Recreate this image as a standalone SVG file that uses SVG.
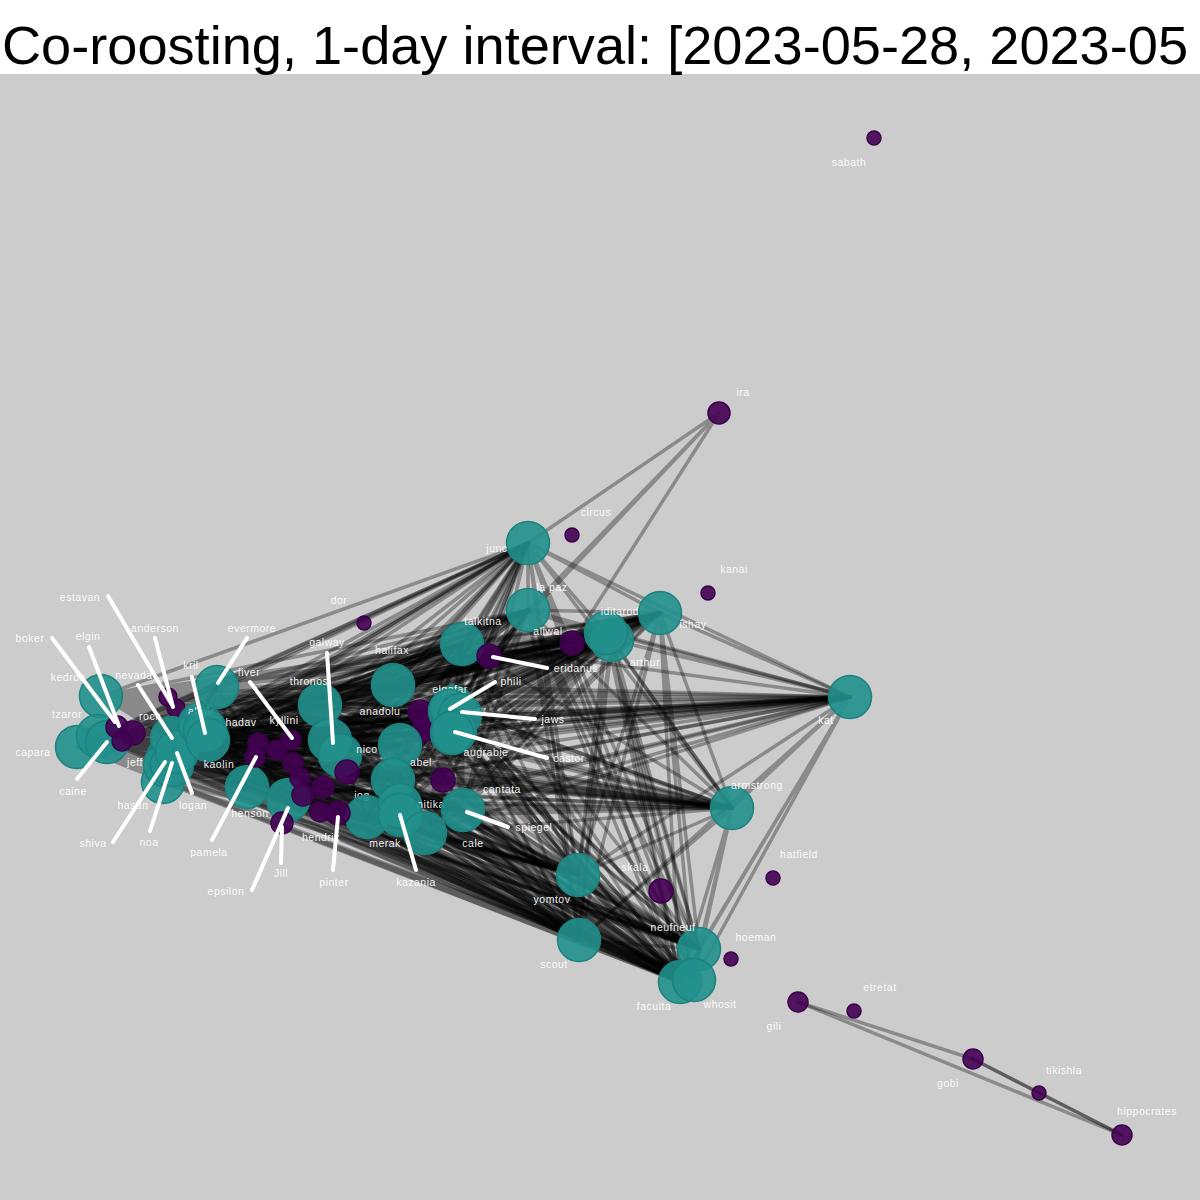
<svg xmlns="http://www.w3.org/2000/svg" width="1200" height="1200" viewBox="0 0 1200 1200">
<style>
.e{fill:none;stroke:#000;stroke-opacity:0.32;stroke-width:3.5;stroke-linejoin:round;stroke-linecap:round}
.t{fill:#21908c;fill-opacity:0.9;stroke:#1c827e;stroke-width:1.5}
.p{fill:#440154;fill-opacity:0.9;stroke:#3a0149;stroke-width:1.5}
.ptr line{stroke:#fff;stroke-width:4;stroke-linecap:round}
text.l{font-family:"Liberation Sans",Arial,sans-serif;font-size:10.5px;fill:#fff;fill-opacity:0.95;text-anchor:middle;letter-spacing:0.5px}
</style>
<rect x="0" y="0" width="1200" height="1200" fill="#cccccc"/>
<rect x="0" y="0" width="1200" height="74" fill="#ffffff"/>
<text x="2" y="64" font-family="'Liberation Sans',Arial,sans-serif" font-size="54" fill="#000" textLength="1186" lengthAdjust="spacingAndGlyphs">Co-roosting, 1-day interval: [2023-05-28, 2023-05</text>
<g id="edges">
<path class="e" d="M101 696L217 687 101 696 247 787 101 696 288 800 101 696 320 705 101 696 330 740 101 696 340 755 101 696 393 685 101 696 400 745 101 696 393 780 101 696 400 805 101 696 367 817 101 696 425 833 101 696 463 810 101 696 453 707 101 696 452 733 101 696 460 715 101 696 462 644 101 696 528 610 101 696 528 543 101 696 606 633 101 696 612 640 101 696 660 613 101 696 850 697 101 696 732 808 101 696 578 875 101 696 579 940 101 696 699 949 101 696 680 982 101 696 694 980"/>
<path class="e" d="M98 736L217 687 98 736 247 787 98 736 288 800 98 736 320 705 98 736 330 740 98 736 340 755 98 736 393 685 98 736 400 745 98 736 393 780 98 736 400 805 98 736 367 817 98 736 425 833 98 736 463 810 98 736 453 707 98 736 452 733 98 736 460 715 98 736 462 644 98 736 528 610 98 736 528 543 98 736 606 633 98 736 612 640 98 736 660 613 98 736 850 697 98 736 732 808 98 736 578 875 98 736 579 940 98 736 699 949 98 736 680 982 98 736 694 980"/>
<path class="e" d="M77 747L217 687 77 747 247 787 77 747 288 800 77 747 320 705 77 747 330 740 77 747 340 755 77 747 393 685 77 747 400 745 77 747 393 780 77 747 400 805 77 747 367 817 77 747 425 833 77 747 463 810 77 747 453 707 77 747 452 733 77 747 460 715 77 747 462 644 77 747 528 610 77 747 528 543 77 747 606 633 77 747 612 640 77 747 660 613 77 747 850 697 77 747 732 808 77 747 578 875 77 747 579 940 77 747 699 949 77 747 680 982 77 747 694 980"/>
<path class="e" d="M107 742L217 687 107 742 247 787 107 742 288 800 107 742 320 705 107 742 330 740 107 742 340 755 107 742 393 685 107 742 400 745 107 742 393 780 107 742 400 805 107 742 367 817 107 742 425 833 107 742 463 810 107 742 453 707 107 742 452 733 107 742 460 715 107 742 462 644 107 742 528 610 107 742 528 543 107 742 606 633 107 742 612 640 107 742 660 613 107 742 850 697 107 742 732 808 107 742 578 875 107 742 579 940 107 742 699 949 107 742 680 982 107 742 694 980"/>
<path class="e" d="M172 738L217 687 172 738 247 787 172 738 288 800 172 738 320 705 172 738 330 740 172 738 340 755 172 738 393 685 172 738 400 745 172 738 393 780 172 738 400 805 172 738 367 817 172 738 425 833 172 738 463 810 172 738 453 707 172 738 452 733 172 738 460 715 172 738 462 644 172 738 528 610 172 738 528 543 172 738 606 633 172 738 612 640 172 738 660 613 172 738 850 697 172 738 732 808 172 738 578 875 172 738 579 940 172 738 699 949 172 738 680 982 172 738 694 980"/>
<path class="e" d="M168 758L217 687 168 758 247 787 168 758 288 800 168 758 320 705 168 758 330 740 168 758 340 755 168 758 393 685 168 758 400 745 168 758 393 780 168 758 400 805 168 758 367 817 168 758 425 833 168 758 463 810 168 758 453 707 168 758 452 733 168 758 460 715 168 758 462 644 168 758 528 610 168 758 528 543 168 758 606 633 168 758 612 640 168 758 660 613 168 758 850 697 168 758 732 808 168 758 578 875 168 758 579 940 168 758 699 949 168 758 680 982 168 758 694 980"/>
<path class="e" d="M163 782L217 687 163 782 247 787 163 782 288 800 163 782 320 705 163 782 330 740 163 782 340 755 163 782 393 685 163 782 400 745 163 782 393 780 163 782 400 805 163 782 367 817 163 782 425 833 163 782 463 810 163 782 453 707 163 782 452 733 163 782 460 715 163 782 462 644 163 782 528 610 163 782 528 543 163 782 606 633 163 782 612 640 163 782 660 613 163 782 850 697 163 782 732 808 163 782 578 875 163 782 579 940 163 782 699 949 163 782 680 982 163 782 694 980"/>
<path class="e" d="M177 752L217 687 177 752 247 787 177 752 288 800 177 752 320 705 177 752 330 740 177 752 340 755 177 752 393 685 177 752 400 745 177 752 393 780 177 752 400 805 177 752 367 817 177 752 425 833 177 752 463 810 177 752 453 707 177 752 452 733 177 752 460 715 177 752 462 644 177 752 528 610 177 752 528 543 177 752 606 633 177 752 612 640 177 752 660 613 177 752 850 697 177 752 732 808 177 752 578 875 177 752 579 940 177 752 699 949 177 752 680 982 177 752 694 980"/>
<path class="e" d="M205 730L217 687 205 730 247 787 205 730 288 800 205 730 320 705 205 730 330 740 205 730 340 755 205 730 393 685 205 730 400 745 205 730 393 780 205 730 400 805 205 730 367 817 205 730 425 833 205 730 463 810 205 730 453 707 205 730 452 733 205 730 460 715 205 730 462 644 205 730 528 610 205 730 528 543 205 730 606 633 205 730 612 640 205 730 660 613 205 730 850 697 205 730 732 808 205 730 578 875 205 730 579 940 205 730 699 949 205 730 680 982 205 730 694 980"/>
<path class="e" d="M208 740L217 687 208 740 247 787 208 740 288 800 208 740 320 705 208 740 330 740 208 740 340 755 208 740 393 685 208 740 400 745 208 740 393 780 208 740 400 805 208 740 367 817 208 740 425 833 208 740 463 810 208 740 453 707 208 740 452 733 208 740 460 715 208 740 462 644 208 740 528 610 208 740 528 543 208 740 606 633 208 740 612 640 208 740 660 613 208 740 850 697 208 740 732 808 208 740 578 875 208 740 579 940 208 740 699 949 208 740 680 982 208 740 694 980"/>
<path class="e" d="M217 687L247 787 217 687 288 800 217 687 320 705 217 687 330 740 217 687 340 755 217 687 393 685 217 687 400 745 217 687 393 780 217 687 400 805 217 687 367 817 217 687 425 833 217 687 463 810 217 687 453 707 217 687 452 733 217 687 460 715 217 687 462 644 217 687 528 610 217 687 528 543 217 687 606 633 217 687 612 640 217 687 660 613 217 687 850 697 217 687 732 808 217 687 578 875 217 687 579 940 217 687 699 949 217 687 680 982 217 687 694 980"/>
<path class="e" d="M247 787L288 800 247 787 320 705 247 787 330 740 247 787 340 755 247 787 393 685 247 787 400 745 247 787 393 780 247 787 400 805 247 787 367 817 247 787 425 833 247 787 463 810 247 787 453 707 247 787 452 733 247 787 460 715 247 787 462 644 247 787 528 610 247 787 528 543 247 787 606 633 247 787 612 640 247 787 660 613 247 787 850 697 247 787 732 808 247 787 578 875 247 787 579 940 247 787 699 949 247 787 680 982 247 787 694 980"/>
<path class="e" d="M288 800L320 705 288 800 330 740 288 800 340 755 288 800 393 685 288 800 400 745 288 800 393 780 288 800 400 805 288 800 367 817 288 800 425 833 288 800 463 810 288 800 453 707 288 800 452 733 288 800 460 715 288 800 462 644 288 800 528 610 288 800 528 543 288 800 606 633 288 800 612 640 288 800 660 613 288 800 850 697 288 800 732 808 288 800 578 875 288 800 579 940 288 800 699 949 288 800 680 982 288 800 694 980"/>
<path class="e" d="M320 705L330 740 320 705 340 755 320 705 393 685 320 705 400 745 320 705 393 780 320 705 400 805 320 705 367 817 320 705 425 833 320 705 463 810 320 705 453 707 320 705 452 733 320 705 460 715 320 705 462 644 320 705 528 610 320 705 528 543 320 705 606 633 320 705 612 640 320 705 660 613 320 705 850 697 320 705 732 808 320 705 578 875 320 705 579 940 320 705 699 949 320 705 680 982 320 705 694 980"/>
<path class="e" d="M330 740L340 755 330 740 393 685 330 740 400 745 330 740 393 780 330 740 400 805 330 740 367 817 330 740 425 833 330 740 463 810 330 740 453 707 330 740 452 733 330 740 460 715 330 740 462 644 330 740 528 610 330 740 528 543 330 740 606 633 330 740 612 640 330 740 660 613 330 740 850 697 330 740 732 808 330 740 578 875 330 740 579 940 330 740 699 949 330 740 680 982 330 740 694 980"/>
<path class="e" d="M340 755L393 685 340 755 400 745 340 755 393 780 340 755 400 805 340 755 367 817 340 755 425 833 340 755 463 810 340 755 453 707 340 755 452 733 340 755 460 715 340 755 462 644 340 755 528 610 340 755 528 543 340 755 606 633 340 755 612 640 340 755 660 613 340 755 850 697 340 755 732 808 340 755 578 875 340 755 579 940 340 755 699 949 340 755 680 982 340 755 694 980"/>
<path class="e" d="M393 685L400 745 393 685 393 780 393 685 400 805 393 685 367 817 393 685 425 833 393 685 463 810 393 685 453 707 393 685 452 733 393 685 460 715 393 685 462 644 393 685 528 610 393 685 528 543 393 685 606 633 393 685 612 640 393 685 660 613 393 685 850 697 393 685 732 808 393 685 578 875 393 685 579 940 393 685 699 949 393 685 680 982 393 685 694 980"/>
<path class="e" d="M400 745L393 780 400 745 400 805 400 745 367 817 400 745 425 833 400 745 463 810 400 745 453 707 400 745 452 733 400 745 460 715 400 745 462 644 400 745 528 610 400 745 528 543 400 745 606 633 400 745 612 640 400 745 660 613 400 745 850 697 400 745 732 808 400 745 578 875 400 745 579 940 400 745 699 949 400 745 680 982 400 745 694 980"/>
<path class="e" d="M393 780L400 805 393 780 367 817 393 780 425 833 393 780 463 810 393 780 453 707 393 780 452 733 393 780 460 715 393 780 462 644 393 780 528 610 393 780 528 543 393 780 606 633 393 780 612 640 393 780 660 613 393 780 850 697 393 780 732 808 393 780 578 875 393 780 579 940 393 780 699 949 393 780 680 982 393 780 694 980"/>
<path class="e" d="M400 805L367 817 400 805 425 833 400 805 463 810 400 805 453 707 400 805 452 733 400 805 460 715 400 805 462 644 400 805 528 610 400 805 528 543 400 805 606 633 400 805 612 640 400 805 660 613 400 805 850 697 400 805 732 808 400 805 578 875 400 805 579 940 400 805 699 949 400 805 680 982 400 805 694 980"/>
<path class="e" d="M367 817L425 833 367 817 463 810 367 817 453 707 367 817 452 733 367 817 460 715 367 817 462 644 367 817 528 610 367 817 528 543 367 817 606 633 367 817 612 640 367 817 660 613 367 817 850 697 367 817 732 808 367 817 578 875 367 817 579 940 367 817 699 949 367 817 680 982 367 817 694 980"/>
<path class="e" d="M425 833L463 810 425 833 453 707 425 833 452 733 425 833 460 715 425 833 462 644 425 833 528 610 425 833 528 543 425 833 606 633 425 833 612 640 425 833 660 613 425 833 850 697 425 833 732 808 425 833 578 875 425 833 579 940 425 833 699 949 425 833 680 982 425 833 694 980"/>
<path class="e" d="M463 810L453 707 463 810 452 733 463 810 460 715 463 810 462 644 463 810 528 610 463 810 528 543 463 810 606 633 463 810 612 640 463 810 660 613 463 810 850 697 463 810 732 808 463 810 578 875 463 810 579 940 463 810 699 949 463 810 680 982 463 810 694 980"/>
<path class="e" d="M453 707L452 733 453 707 460 715 453 707 462 644 453 707 528 610 453 707 528 543 453 707 606 633 453 707 612 640 453 707 660 613 453 707 850 697 453 707 732 808 453 707 578 875 453 707 579 940 453 707 699 949 453 707 680 982 453 707 694 980"/>
<path class="e" d="M452 733L460 715 452 733 462 644 452 733 528 610 452 733 528 543 452 733 606 633 452 733 612 640 452 733 660 613 452 733 850 697 452 733 732 808 452 733 578 875 452 733 579 940 452 733 699 949 452 733 680 982 452 733 694 980"/>
<path class="e" d="M460 715L462 644 460 715 528 610 460 715 528 543 460 715 606 633 460 715 612 640 460 715 660 613 460 715 850 697 460 715 732 808 460 715 578 875 460 715 579 940 460 715 699 949 460 715 680 982 460 715 694 980"/>
<path class="e" d="M462 644L528 610 462 644 528 543 462 644 606 633 462 644 612 640 462 644 660 613 462 644 850 697 462 644 732 808 462 644 578 875 462 644 579 940 462 644 699 949 462 644 680 982 462 644 694 980"/>
<path class="e" d="M528 610L528 543 528 610 606 633 528 610 612 640 528 610 660 613 528 610 850 697 528 610 732 808 528 610 578 875 528 610 579 940 528 610 699 949 528 610 680 982 528 610 694 980"/>
<path class="e" d="M528 543L606 633 528 543 612 640 528 543 660 613 528 543 850 697 528 543 732 808 528 543 578 875 528 543 579 940 528 543 699 949 528 543 680 982 528 543 694 980"/>
<path class="e" d="M606 633L612 640 606 633 660 613 606 633 850 697 606 633 732 808 606 633 578 875 606 633 579 940 606 633 699 949 606 633 680 982 606 633 694 980"/>
<path class="e" d="M612 640L660 613 612 640 850 697 612 640 732 808 612 640 578 875 612 640 579 940 612 640 699 949 612 640 680 982 612 640 694 980"/>
<path class="e" d="M660 613L850 697 660 613 732 808 660 613 578 875 660 613 579 940 660 613 699 949 660 613 680 982 660 613 694 980"/>
<path class="e" d="M850 697L732 808 850 697 578 875 850 697 579 940 850 697 699 949 850 697 680 982 850 697 694 980"/>
<path class="e" d="M732 808L578 875 732 808 579 940 732 808 699 949 732 808 680 982 732 808 694 980"/>
<path class="e" d="M578 875L579 940 578 875 699 949 578 875 680 982 578 875 694 980"/>
<path class="e" d="M579 940L699 949 579 940 680 982 579 940 694 980"/>
<path class="e" d="M699 949L680 982 699 949 694 980"/>
<path class="e" d="M719 413L528 543 719 413 528 610 719 413 489 656 719 413 572 643"/>
<path class="e" d="M798 1002L973 1059"/>
<path class="e" d="M798 1002L1122 1135"/>
<path class="e" d="M973 1059L1039 1093"/>
<path class="e" d="M1039 1093L1122 1135"/>
<path class="e" d="M973 1059L1122 1135"/>
</g>
<g id="nodes">
<g id="n-kedros"><circle class="t" cx="101" cy="696" r="21.5"/><text class="l" x="68" y="680.5">kedros</text></g>
<g id="n-capara"><circle class="t" cx="77" cy="747" r="21.5"/><text class="l" x="33" y="755.5">capara</text></g>
<g id="n-tzaror"><circle class="t" cx="98" cy="736" r="21.5"/><text class="l" x="67" y="717.5">tzaror</text></g>
<g id="n-caine"><circle class="t" cx="107" cy="742" r="21.5"/><text class="l" x="73" y="794.5">caine</text></g>
<g id="n-boker"><circle class="p" cx="117" cy="727" r="11"/><text class="l" x="30" y="641.5">boker</text></g>
<g id="n-elgin"><circle class="p" cx="133" cy="733" r="12"/><text class="l" x="88" y="639.5">elgin</text></g>
<g id="n-rock"><circle class="p" cx="122" cy="741" r="10"/><text class="l" x="150" y="719.5">rock</text></g>
<g id="n-estavan"><circle class="p" cx="168" cy="697" r="9"/><text class="l" x="80" y="600.5">estavan</text></g>
<g id="n-anderson"><circle class="p" cx="176" cy="708" r="9"/><text class="l" x="155" y="631.5">anderson</text></g>
<g id="n-hasan"><circle class="t" cx="163" cy="782" r="21.5"/><text class="l" x="133" y="808.5">hasan</text></g>
<g id="n-jeff"><circle class="t" cx="168" cy="758" r="21.5"/><text class="l" x="135" y="765.5">jeff</text></g>
<g id="n-shiva"><circle class="t" cx="165" cy="765" r="21.5"/><text class="l" x="93" y="846.5">shiva</text></g>
<g id="n-noa"><circle class="t" cx="172" cy="765" r="21.5"/><text class="l" x="149" y="845.5">noa</text></g>
<g id="n-nevada"><circle class="t" cx="172" cy="738" r="21.5"/><text class="l" x="134" y="678.5">nevada</text></g>
<g id="n-logan"><circle class="t" cx="177" cy="752" r="21.5"/><text class="l" x="193" y="808.5">logan</text></g>
<g id="n-altair"><circle class="t" cx="200" cy="724" r="21.5"/><text class="l" x="201" y="714.5">altair</text></g>
<g id="n-kril"><circle class="t" cx="205" cy="730" r="21.5"/><text class="l" x="191" y="668.5">kril</text></g>
<g id="n-kaolin"><circle class="t" cx="208" cy="740" r="21.5"/><text class="l" x="219" y="767.5">kaolin</text></g>
<g id="n-evermore"><circle class="t" cx="217" cy="687" r="21.5"/><text class="l" x="252" y="631.5">evermore</text></g>
<g id="n-henson"><circle class="t" cx="247" cy="787" r="21.5"/><text class="l" x="250" y="816.5">henson</text></g>
<g id="n-epsilon"><circle class="t" cx="288" cy="800" r="21.5"/><text class="l" x="226" y="894.5">epsilon</text></g>
<g id="n-thronos"><circle class="t" cx="320" cy="705" r="21.5"/><text class="l" x="309" y="684.5">thronos</text></g>
<g id="n-galway"><circle class="t" cx="330" cy="740" r="21.5"/><text class="l" x="327" y="645.5">galway</text></g>
<g id="n-nico"><circle class="t" cx="340" cy="755" r="21.5"/><text class="l" x="367" y="752.5">nico</text></g>
<g id="n-halifax"><circle class="t" cx="393" cy="685" r="21.5"/><text class="l" x="392" y="653.5">halifax</text></g>
<g id="n-anadolu"><circle class="p" cx="420" cy="712" r="12"/><text class="l" x="380" y="714.5">anadolu</text></g>
<g id="n-p1"><circle class="p" cx="424" cy="730" r="12"/></g>
<g id="n-abel"><circle class="t" cx="400" cy="745" r="21.5"/><text class="l" x="421" y="765.5">abel</text></g>
<g id="n-jog"><circle class="t" cx="393" cy="780" r="21.5"/><text class="l" x="362" y="798.5">jog</text></g>
<g id="n-merak"><circle class="t" cx="367" cy="817" r="21.5"/><text class="l" x="385" y="846.5">merak</text></g>
<g id="n-nitika"><circle class="t" cx="400" cy="805" r="21.5"/><text class="l" x="431" y="807.5">nitika</text></g>
<g id="n-kazania"><circle class="t" cx="400" cy="815" r="21.5"/><text class="l" x="416" y="885.5">kazania</text></g>
<g id="n-cale"><circle class="t" cx="425" cy="833" r="21.5"/><text class="l" x="473" y="846.5">cale</text></g>
<g id="n-cantata"><circle class="p" cx="443" cy="780" r="12"/><text class="l" x="502" y="792.5">cantata</text></g>
<g id="n-spiegel"><circle class="t" cx="463" cy="810" r="21.5"/><text class="l" x="534" y="830.5">spiegel</text></g>
<g id="n-elgafar"><circle class="t" cx="453" cy="707" r="21.5"/><text class="l" x="450" y="692.5">elgafar</text></g>
<g id="n-phili"><circle class="t" cx="450" cy="711" r="21.5"/><text class="l" x="511" y="684.5">phili</text></g>
<g id="n-jaws"><circle class="t" cx="460" cy="715" r="21.5"/><text class="l" x="553" y="722.5">jaws</text></g>
<g id="n-castor"><circle class="t" cx="455" cy="731" r="21.5"/><text class="l" x="569" y="761.5">castor</text></g>
<g id="n-augrabie"><circle class="t" cx="452" cy="733" r="21.5"/><text class="l" x="486" y="755.5">augrabie</text></g>
<g id="n-talkitna"><circle class="t" cx="462" cy="644" r="21.5"/><text class="l" x="483" y="624.5">talkitna</text></g>
<g id="n-eridanus"><circle class="p" cx="489" cy="656" r="12"/><text class="l" x="576" y="671.5">eridanus</text></g>
<g id="n-lapaz"><circle class="t" cx="528" cy="610" r="21.5"/><text class="l" x="552" y="590.5">la paz</text></g>
<g id="n-aliwal"><circle class="p" cx="572" cy="643" r="12"/><text class="l" x="548" y="634.5">aliwal</text></g>
<g id="n-arthur"><circle class="t" cx="612" cy="640" r="21.5"/><text class="l" x="645" y="665.5">arthur</text></g>
<g id="n-iditarod"><circle class="t" cx="606" cy="633" r="21.5"/><text class="l" x="620" y="614.5">iditarod</text></g>
<g id="n-ishay"><circle class="t" cx="660" cy="613" r="21.5"/><text class="l" x="693" y="627.5">ishay</text></g>
<g id="n-junc"><circle class="t" cx="528" cy="543" r="21.5"/><text class="l" x="497" y="551.5">junc</text></g>
<g id="n-kat"><circle class="t" cx="850" cy="697" r="21.5"/><text class="l" x="826" y="723.5">kat</text></g>
<g id="n-armstrong"><circle class="t" cx="732" cy="808" r="21.5"/><text class="l" x="757" y="788.5">armstrong</text></g>
<g id="n-yomtov"><circle class="t" cx="578" cy="875" r="21.5"/><text class="l" x="552" y="902.5">yomtov</text></g>
<g id="n-scout"><circle class="t" cx="579" cy="940" r="21.5"/><text class="l" x="554" y="967.5">scout</text></g>
<g id="n-neufneuf"><circle class="t" cx="699" cy="949" r="21.5"/><text class="l" x="673" y="930.5">neufneuf</text></g>
<g id="n-faculta"><circle class="t" cx="680" cy="982" r="21.5"/><text class="l" x="654" y="1009.5">faculta</text></g>
<g id="n-whosit"><circle class="t" cx="694" cy="980" r="21.5"/><text class="l" x="720" y="1007.5">whosit</text></g>
<g id="n-hadav"><circle class="p" cx="258" cy="743" r="10"/><text class="l" x="241" y="725.5">hadav</text></g>
<g id="n-pamela"><circle class="p" cx="255" cy="757" r="10"/><text class="l" x="209" y="855.5">pamela</text></g>
<g id="n-kyllini"><circle class="p" cx="277" cy="750" r="10"/><text class="l" x="284" y="723.5">kyllini</text></g>
<g id="n-fiver"><circle class="p" cx="291" cy="740" r="10"/><text class="l" x="249" y="675.5">fiver</text></g>
<g id="n-p2"><circle class="p" cx="293" cy="763" r="10"/></g>
<g id="n-p3"><circle class="p" cx="300" cy="778" r="10"/></g>
<g id="n-p4"><circle class="p" cx="303" cy="795" r="11"/></g>
<g id="n-p5"><circle class="p" cx="323" cy="787" r="11"/></g>
<g id="n-p6"><circle class="p" cx="347" cy="772" r="12"/></g>
<g id="n-hendrix"><circle class="p" cx="320" cy="812" r="10"/><text class="l" x="321" y="840.5">hendrix</text></g>
<g id="n-pinter"><circle class="p" cx="338" cy="813" r="12"/><text class="l" x="334" y="885.5">pinter</text></g>
<g id="n-jill"><circle class="p" cx="282" cy="823" r="11"/><text class="l" x="281" y="876.5">Jill</text></g>
<g id="n-dor"><circle class="p" cx="364" cy="623" r="7"/><text class="l" x="339" y="603.5">dor</text></g>
<g id="n-circus"><circle class="p" cx="572" cy="535" r="7"/><text class="l" x="596" y="515.5">circus</text></g>
<g id="n-kanai"><circle class="p" cx="708" cy="593" r="7"/><text class="l" x="734" y="572.5">kanai</text></g>
<g id="n-ira"><circle class="p" cx="719" cy="413" r="11"/><text class="l" x="743" y="395.5">ira</text></g>
<g id="n-sabath"><circle class="p" cx="874" cy="138" r="7"/><text class="l" x="849" y="165.5">sabath</text></g>
<g id="n-hatfield"><circle class="p" cx="773" cy="878" r="7"/><text class="l" x="799" y="857.5">hatfield</text></g>
<g id="n-skala"><circle class="p" cx="661" cy="891" r="12"/><text class="l" x="635" y="870.5">skala</text></g>
<g id="n-hoeman"><circle class="p" cx="731" cy="959" r="7"/><text class="l" x="756" y="940.5">hoeman</text></g>
<g id="n-gili"><circle class="p" cx="798" cy="1002" r="10"/><text class="l" x="774" y="1029.5">gili</text></g>
<g id="n-etretat"><circle class="p" cx="854" cy="1011" r="7"/><text class="l" x="880" y="990.5">etretat</text></g>
<g id="n-gobi"><circle class="p" cx="973" cy="1059" r="10"/><text class="l" x="948" y="1086.5">gobi</text></g>
<g id="n-tikishla"><circle class="p" cx="1039" cy="1093" r="7"/><text class="l" x="1064" y="1073.5">tikishla</text></g>
<g id="n-hippocrates"><circle class="p" cx="1122" cy="1135" r="10"/><text class="l" x="1147" y="1114.5">hippocrates</text></g>
</g>
<g id="pointers" class="ptr">
<line x1="108" y1="596" x2="172" y2="705"/>
<line x1="155" y1="638" x2="173" y2="707"/>
<line x1="52" y1="638" x2="115" y2="722"/>
<line x1="89" y1="647" x2="119" y2="726"/>
<line x1="138" y1="685" x2="172" y2="738"/>
<line x1="192" y1="677" x2="205" y2="733"/>
<line x1="247" y1="638" x2="218" y2="683"/>
<line x1="77" y1="779" x2="107" y2="742"/>
<line x1="113" y1="842" x2="165" y2="762"/>
<line x1="150" y1="831" x2="172" y2="763"/>
<line x1="192" y1="793" x2="177" y2="753"/>
<line x1="212" y1="840" x2="256" y2="757"/>
<line x1="252" y1="890" x2="288" y2="808"/>
<line x1="281" y1="863" x2="282" y2="827"/>
<line x1="333" y1="870" x2="338" y2="817"/>
<line x1="416" y1="870" x2="400" y2="815"/>
<line x1="250" y1="682" x2="292" y2="738"/>
<line x1="327" y1="653" x2="333" y2="743"/>
<line x1="547" y1="668" x2="493" y2="657"/>
<line x1="495" y1="682" x2="450" y2="709"/>
<line x1="535" y1="719" x2="462" y2="712"/>
<line x1="547" y1="758" x2="455" y2="732"/>
<line x1="508" y1="827" x2="467" y2="812"/>
</g>
</svg>
